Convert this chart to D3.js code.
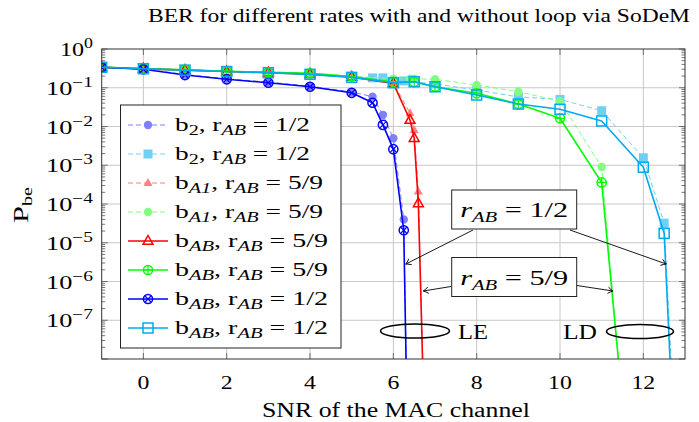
<!DOCTYPE html>
<html>
<head>
<meta charset="utf-8">
<script src="https://cdn.jsdelivr.net/npm/d3@7/dist/d3.min.js"></script>
<style>
  body { margin: 0; background: #fff; }
  text { font-family: "Liberation Serif", "DejaVu Serif", serif; fill: #000; }
</style>
</head>
<body>
<div id="chart"></div>
<script>
// data

var xTicks = [0, 2, 4, 6, 8, 10, 12];
var yDecades = [0, -1, -2, -3, -4, -5, -6, -7];

var snrB2Blue = [-1, 0, 1, 2, 3, 4, 5, 5.5, 5.75, 6, 6.25, 6.5];
var berB2Blue = [0.34, 0.31, 0.22, 0.17, 0.14, 0.11, 0.078, 0.059, 0.020, 0.005, 4e-5, 1e-20];

var snrB2Cyan = [-1, 0, 1, 2, 3, 4, 5, 5.5, 5.75, 6.25, 7, 8, 9, 10, 11, 12, 12.5, 13];
var berB2Cyan = [0.34, 0.315, 0.29, 0.268, 0.25, 0.228, 0.19, 0.18, 0.18, 0.15, 0.125, 0.0875, 0.058, 0.05, 0.0255, 1.56e-3, 3.2e-5, 1e-15];

var snrA1Red = [-1, 0, 1, 2, 3, 4, 5, 6, 6.4, 6.5, 6.6, 7];
var berA1Red = [0.335, 0.31, 0.288, 0.265, 0.248, 0.23, 0.19, 0.135, 0.022, 0.0081, 2.1e-4, 1e-20];

var snrA1Green = [-1, 0, 1, 2, 3, 4, 5, 6, 6.4, 6.5, 7, 8, 9, 10, 11, 12];
var berA1Green = [0.34, 0.315, 0.295, 0.27, 0.255, 0.24, 0.2, 0.17, 0.17, 0.17, 0.165, 0.118, 0.079, 0.045, 9e-4, 4e-16];

var snrABRed = [-1, 0, 1, 2, 3, 4, 5, 6, 6.4, 6.5, 6.6, 7];
var berABRed = [0.335, 0.31, 0.285, 0.262, 0.245, 0.225, 0.19, 0.13, 0.0147, 0.005, 1.04e-4, 1e-20];

var snrABGreen = [-1, 0, 1, 2, 3, 4, 5, 6, 6.5, 7, 8, 9, 10, 11, 12];
var berABGreen = [0.34, 0.31, 0.29, 0.266, 0.25, 0.235, 0.195, 0.14, 0.14, 0.106, 0.072, 0.038, 0.0163, 3.6e-4, 1.4e-15];

var snrABBlue = [-1, 0, 1, 2, 3, 4, 5, 5.5, 5.75, 6, 6.25, 6.5];
var berABBlue = [0.337, 0.30, 0.213, 0.165, 0.135, 0.106, 0.074, 0.041, 0.011, 0.0026, 2.1e-5, 1e-20];

var snrABCyan = [-1, 0, 1, 2, 3, 4, 5, 6, 6.5, 7, 8, 9, 10, 11, 12, 12.5, 13];
var berABCyan = [0.337, 0.31, 0.285, 0.262, 0.245, 0.222, 0.185, 0.135, 0.143, 0.106, 0.065, 0.038, 0.0278, 0.0139, 8.9e-4, 1.75e-5, 5e-17];

var series = [
    {x: snrB2Blue, y: berB2Blue, color: "#8080ff", dash: "5,3", width: 1, marker: "dot", sub: "2", rate: "1/2"},
    {x: snrB2Cyan, y: berB2Cyan, color: "#70d0f4", dash: "5,3", width: 1, marker: "fsquare", sub: "2", rate: "1/2"},
    {x: snrA1Red, y: berA1Red, color: "#ff8080", dash: "5,3", width: 1, marker: "ftri", sub: "A1", rate: "5/9"},
    {x: snrA1Green, y: berA1Green, color: "#80ff80", dash: "5,3", width: 1, marker: "dot", sub: "A1", rate: "5/9"},
    {x: snrABRed, y: berABRed, color: "#ff0000", dash: null, width: 1.6, marker: "tri", sub: "AB", rate: "5/9"},
    {x: snrABGreen, y: berABGreen, color: "#00ff00", dash: null, width: 1.6, marker: "oplus", sub: "AB", rate: "5/9"},
    {x: snrABBlue, y: berABBlue, color: "#0000ff", dash: null, width: 1.6, marker: "otimes", sub: "AB", rate: "1/2"},
    {x: snrABCyan, y: berABCyan, color: "#00aaee", dash: null, width: 1.6, marker: "square", sub: "AB", rate: "1/2"}
];

// size and svg

var w = 699,
    h = 422,
    svg = d3.select("#chart")
            .append("svg")
            .attr("width", w)
            .attr("height", h);

var x = d3.scaleLinear().domain([-1, 13]).range([101.7, 685]);
var y = d3.scaleLog().domain([1e-8, 1]).range([359, 49]);

// the reference text is wider than Liberation Serif, so stretch it
function stretch(t, target) {
    var len = t.node().getComputedTextLength();
    t.attr("textLength", typeof target == "number" ? target : len * 1.25)
     .attr("lengthAdjust", "spacingAndGlyphs");
    return t;
}

var defs = svg.append("defs");
defs.append("clipPath").attr("id", "plot")
    .append("rect")
    .attr("x", x(-1)).attr("y", y(1))
    .attr("width", x(13) - x(-1)).attr("height", y(1e-8) - y(1));

defs.append("marker")
    .attr("id", "arrow")
    .attr("markerUnits", "userSpaceOnUse")
    .attr("markerWidth", 12).attr("markerHeight", 12)
    .attr("viewBox", "-8 -6 10 12")
    .attr("refX", 0).attr("refY", 0)
    .attr("orient", "auto")
    .append("path")
    .attr("d", "M-5,-3.2 Q-2,-0.8 0,0 Q-2,0.8 -5,3.2")
    .attr("fill", "none")
    .attr("stroke", "#000")
    .attr("stroke-width", 0.9);

// grid
var grid = svg.append("g").attr("stroke", "#c8c8c8").attr("stroke-width", 1);
xTicks.forEach(function(t) {
    grid.append("line").attr("x1", x(t)).attr("x2", x(t)).attr("y1", y(1)).attr("y2", y(1e-8));
});
yDecades.slice(1).forEach(function(k) {
    grid.append("line").attr("x1", x(-1)).attr("x2", x(13)).attr("y1", y(Math.pow(10, k))).attr("y2", y(Math.pow(10, k)));
});

// y ticks (major + minor) on both sides
var ticks = svg.append("g").attr("stroke", "#555").attr("stroke-width", 0.8);
for (var k = -8; k <= 0; k++) {
    var v = Math.pow(10, k);
    ticks.append("line").attr("x1", x(-1)).attr("x2", x(-1) + 6).attr("y1", y(v)).attr("y2", y(v));
    ticks.append("line").attr("x1", x(13)).attr("x2", x(13) - 6).attr("y1", y(v)).attr("y2", y(v));
    if (k < 0) {
        for (var m = 2; m <= 9; m++) {
            var u = m * v;
            ticks.append("line").attr("x1", x(-1)).attr("x2", x(-1) + 3.5).attr("y1", y(u)).attr("y2", y(u));
            ticks.append("line").attr("x1", x(13)).attr("x2", x(13) - 3.5).attr("y1", y(u)).attr("y2", y(u));
        }
    }
}
xTicks.forEach(function(t) {
    ticks.append("line").attr("x1", x(t)).attr("x2", x(t)).attr("y1", y(1e-8)).attr("y2", y(1e-8) - 6);
    ticks.append("line").attr("x1", x(t)).attr("x2", x(t)).attr("y1", y(1)).attr("y2", y(1) + 6);
});

// curves
var line = d3.line()
    .x(function(d) { return x(d[0]); })
    .y(function(d) { return y(d[1]); });

var plot = svg.append("g").attr("clip-path", "url(#plot)");

function drawMarker(g, type, color, cx, cy) {
    var s;
    if (type == "dot") {
        g.append("circle").attr("cx", cx).attr("cy", cy).attr("r", 4.2).attr("fill", color);
    } else if (type == "fsquare") {
        g.append("rect").attr("x", cx - 4.5).attr("y", cy - 4.5).attr("width", 9).attr("height", 9).attr("fill", color);
    } else if (type == "ftri") {
        s = 5;
        g.append("path").attr("d", "M" + cx + "," + (cy - s) + "L" + (cx + s * 0.9) + "," + (cy + s * 0.6) + "L" + (cx - s * 0.9) + "," + (cy + s * 0.6) + "Z").attr("fill", color);
    } else if (type == "tri") {
        s = 5.5;
        g.append("path").attr("d", "M" + cx + "," + (cy - s) + "L" + (cx + s * 0.9) + "," + (cy + s * 0.6) + "L" + (cx - s * 0.9) + "," + (cy + s * 0.6) + "Z")
            .attr("fill", "none").attr("stroke", color).attr("stroke-width", 1.5);
    } else if (type == "square") {
        g.append("rect").attr("x", cx - 5).attr("y", cy - 5).attr("width", 10).attr("height", 10)
            .attr("fill", "none").attr("stroke", color).attr("stroke-width", 1.5);
    } else if (type == "oplus" || type == "otimes") {
        var r = 4.6, a = type == "otimes" ? r * 0.707 : r;
        g.append("circle").attr("cx", cx).attr("cy", cy).attr("r", r)
            .attr("fill", "none").attr("stroke", color).attr("stroke-width", 1.5);
        if (type == "oplus") {
            g.append("path").attr("d", "M" + (cx - r) + "," + cy + "H" + (cx + r) + "M" + cx + "," + (cy - r) + "V" + (cy + r))
                .attr("stroke", color).attr("stroke-width", 1.2);
        } else {
            g.append("path").attr("d", "M" + (cx - a) + "," + (cy - a) + "L" + (cx + a) + "," + (cy + a) + "M" + (cx - a) + "," + (cy + a) + "L" + (cx + a) + "," + (cy - a))
                .attr("stroke", color).attr("stroke-width", 1.2);
        }
    }
}

series.forEach(function(s) {
    var pts = s.x.map(function(v, i) { return [v, s.y[i]]; });
    var g = plot.append("g");
    g.append("path")
        .datum(pts)
        .attr("fill", "none")
        .attr("stroke", s.color)
        .attr("stroke-width", s.width)
        .attr("stroke-dasharray", s.dash)
        .attr("stroke-linejoin", "round")
        .attr("d", line);
    pts.forEach(function(p) {
        if (p[1] >= 1e-8) drawMarker(g, s.marker, s.color, x(p[0]), y(p[1]));
    });
});

// frame
svg.append("rect")
    .attr("x", x(-1)).attr("y", y(1))
    .attr("width", x(13) - x(-1)).attr("height", y(1e-8) - y(1))
    .attr("fill", "none").attr("stroke", "#333").attr("stroke-width", 1);

// tick labels
xTicks.forEach(function(t) {
    stretch(svg.append("text").attr("x", x(t)).attr("y", 389)
        .attr("text-anchor", "middle").attr("font-size", "19px").text(t));
});
yDecades.forEach(function(k) {
    var t = svg.append("text").attr("x", 93).attr("y", y(Math.pow(10, k)) + 7)
        .attr("text-anchor", "end").attr("font-size", "19px");
    t.append("tspan").text("10");
    t.append("tspan").attr("dy", -8).attr("font-size", "14px").text(k == 0 ? "0" : "\u2212" + (-k));
    stretch(t, k == 0 ? 33 : 47);
});

// axis titles
stretch(svg.append("text").attr("x", 396).attr("y", 417).attr("text-anchor", "middle")
    .attr("font-size", "20px").text("SNR of the MAC channel"), 268);
var yl = svg.append("text").attr("transform", "translate(28,205) rotate(-90)")
    .attr("text-anchor", "middle").attr("font-size", "21px");
yl.append("tspan").text("P");
yl.append("tspan").attr("dy", 4).attr("font-size", "14px").text("be");
stretch(yl, 36);

stretch(svg.append("text").attr("x", 419).attr("y", 22).attr("text-anchor", "middle")
    .attr("font-size", "19px")
    .text("BER for different rates with and without loop via SoDeM"), 542);

// legend
var lg = svg.append("g");
lg.append("rect").attr("x", 120.5).attr("y", 105).attr("width", 220.5).attr("height", 243)
    .attr("fill", "#fff").attr("stroke", "#222").attr("stroke-width", 1);
series.forEach(function(s, i) {
    var cy = 125 + i * 29;
    lg.append("line").attr("x1", 128).attr("x2", 168).attr("y1", cy).attr("y2", cy)
        .attr("stroke", s.color).attr("stroke-width", s.width).attr("stroke-dasharray", s.dash);
    drawMarker(lg, s.marker, s.color, 148, cy);
    var t = lg.append("text").attr("x", 175).attr("y", cy + 6).attr("font-size", "19px");
    t.append("tspan").text("b");
    t.append("tspan").attr("dy", 4).attr("font-size", "14px")
        .attr("font-style", s.sub == "2" ? "normal" : "italic").text(s.sub);
    t.append("tspan").attr("dy", -4).text(", r");
    t.append("tspan").attr("dy", 4).attr("font-size", "14px").attr("font-style", "italic").text("AB");
    t.append("tspan").attr("dy", -4).text("  =  " + s.rate);
    stretch(t, s.sub == "2" ? 135 : (s.sub == "A1" ? 148 : 153));
});

// annotations
function noteBox(x0, y0, rate) {
    svg.append("rect").attr("x", x0).attr("y", y0).attr("width", 125).attr("height", 39)
        .attr("fill", "#fff").attr("stroke", "#222").attr("stroke-width", 1);
    var t = svg.append("text").attr("x", x0 + 62.5).attr("y", y0 + 27).attr("text-anchor", "middle").attr("font-size", "22px");
    t.append("tspan").attr("font-style", "italic").text("r");
    t.append("tspan").attr("dy", 5).attr("font-size", "15px").attr("font-style", "italic").text("AB");
    t.append("tspan").attr("dy", -5).text("  =  " + rate);
    stretch(t, 108);
}
function arrow(x1, y1, x2, y2) {
    svg.append("line").attr("x1", x1).attr("y1", y1).attr("x2", x2).attr("y2", y2)
        .attr("stroke", "#000").attr("stroke-width", 0.9).attr("marker-end", "url(#arrow)");
}
arrow(473, 230, x(6.3), 264);
arrow(570, 230, x(12.55), 264);
arrow(451, 286.5, x(6.72), 291);
arrow(577, 285.5, x(11.27), 291);
noteBox(451.7, 190, "1/2");
noteBox(451.7, 257.5, "5/9");

svg.append("ellipse").attr("cx", 415).attr("cy", 331).attr("rx", 34.5).attr("ry", 7)
    .attr("fill", "none").attr("stroke", "#000").attr("stroke-width", 1.5);
svg.append("ellipse").attr("cx", 640).attr("cy", 331.5).attr("rx", 33.5).attr("ry", 7)
    .attr("fill", "none").attr("stroke", "#000").attr("stroke-width", 1.5);
stretch(svg.append("text").attr("x", 458).attr("y", 339).attr("font-size", "21px").text("LE"), 30);
stretch(svg.append("text").attr("x", 563).attr("y", 339).attr("font-size", "21px").text("LD"), 34);
</script>
</body>
</html>
